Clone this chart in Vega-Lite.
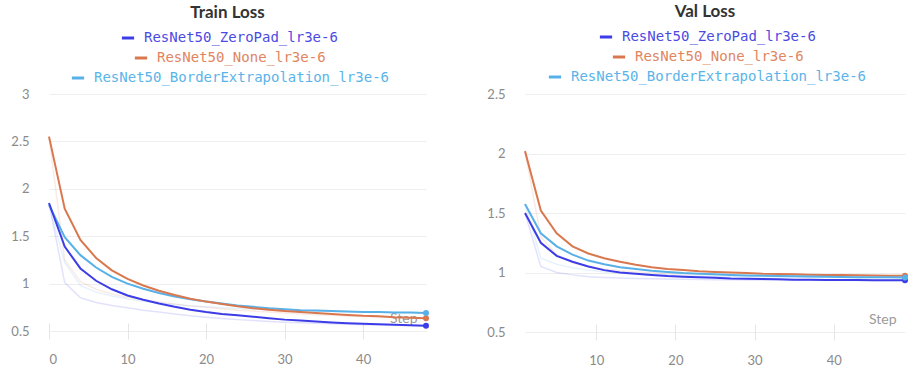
{
  "$schema": "https://vega.github.io/schema/vega-lite/v6.json",
  "padding": {"left": 10, "top": 3, "right": 5, "bottom": 2},
  "spacing": 56,
  "datasets": {
    "train": [
      {"series":"ResNet50_ZeroPad_lr3e-6","step":0,"smooth":1.85,"raw":1.85},
      {"series":"ResNet50_ZeroPad_lr3e-6","step":2,"smooth":1.39,"raw":1.01},
      {"series":"ResNet50_ZeroPad_lr3e-6","step":4,"smooth":1.16,"raw":0.85},
      {"series":"ResNet50_ZeroPad_lr3e-6","step":6,"smooth":1.03,"raw":0.80},
      {"series":"ResNet50_ZeroPad_lr3e-6","step":8,"smooth":0.94,"raw":0.77},
      {"series":"ResNet50_ZeroPad_lr3e-6","step":10,"smooth":0.875,"raw":0.745},
      {"series":"ResNet50_ZeroPad_lr3e-6","step":12,"smooth":0.83,"raw":0.72},
      {"series":"ResNet50_ZeroPad_lr3e-6","step":14,"smooth":0.79,"raw":0.70},
      {"series":"ResNet50_ZeroPad_lr3e-6","step":16,"smooth":0.755,"raw":0.68},
      {"series":"ResNet50_ZeroPad_lr3e-6","step":18,"smooth":0.725,"raw":0.66},
      {"series":"ResNet50_ZeroPad_lr3e-6","step":20,"smooth":0.70,"raw":0.645},
      {"series":"ResNet50_ZeroPad_lr3e-6","step":22,"smooth":0.68,"raw":0.632},
      {"series":"ResNet50_ZeroPad_lr3e-6","step":24,"smooth":0.665,"raw":0.62},
      {"series":"ResNet50_ZeroPad_lr3e-6","step":26,"smooth":0.65,"raw":0.61},
      {"series":"ResNet50_ZeroPad_lr3e-6","step":28,"smooth":0.635,"raw":0.60},
      {"series":"ResNet50_ZeroPad_lr3e-6","step":30,"smooth":0.62,"raw":0.593},
      {"series":"ResNet50_ZeroPad_lr3e-6","step":32,"smooth":0.61,"raw":0.587},
      {"series":"ResNet50_ZeroPad_lr3e-6","step":34,"smooth":0.60,"raw":0.581},
      {"series":"ResNet50_ZeroPad_lr3e-6","step":36,"smooth":0.59,"raw":0.576},
      {"series":"ResNet50_ZeroPad_lr3e-6","step":38,"smooth":0.583,"raw":0.571},
      {"series":"ResNet50_ZeroPad_lr3e-6","step":40,"smooth":0.576,"raw":0.567},
      {"series":"ResNet50_ZeroPad_lr3e-6","step":42,"smooth":0.57,"raw":0.563},
      {"series":"ResNet50_ZeroPad_lr3e-6","step":44,"smooth":0.565,"raw":0.56},
      {"series":"ResNet50_ZeroPad_lr3e-6","step":46,"smooth":0.56,"raw":0.557},
      {"series":"ResNet50_ZeroPad_lr3e-6","step":48,"smooth":0.556,"raw":0.554},
      {"series":"ResNet50_None_lr3e-6","step":0,"smooth":2.55,"raw":2.55},
      {"series":"ResNet50_None_lr3e-6","step":2,"smooth":1.79,"raw":1.25},
      {"series":"ResNet50_None_lr3e-6","step":4,"smooth":1.46,"raw":1.02},
      {"series":"ResNet50_None_lr3e-6","step":6,"smooth":1.27,"raw":0.94},
      {"series":"ResNet50_None_lr3e-6","step":8,"smooth":1.14,"raw":0.89},
      {"series":"ResNet50_None_lr3e-6","step":10,"smooth":1.05,"raw":0.855},
      {"series":"ResNet50_None_lr3e-6","step":12,"smooth":0.98,"raw":0.83},
      {"series":"ResNet50_None_lr3e-6","step":14,"smooth":0.925,"raw":0.805},
      {"series":"ResNet50_None_lr3e-6","step":16,"smooth":0.88,"raw":0.785},
      {"series":"ResNet50_None_lr3e-6","step":18,"smooth":0.84,"raw":0.765},
      {"series":"ResNet50_None_lr3e-6","step":20,"smooth":0.81,"raw":0.75},
      {"series":"ResNet50_None_lr3e-6","step":22,"smooth":0.785,"raw":0.735},
      {"series":"ResNet50_None_lr3e-6","step":24,"smooth":0.76,"raw":0.72},
      {"series":"ResNet50_None_lr3e-6","step":26,"smooth":0.74,"raw":0.71},
      {"series":"ResNet50_None_lr3e-6","step":28,"smooth":0.725,"raw":0.70},
      {"series":"ResNet50_None_lr3e-6","step":30,"smooth":0.71,"raw":0.69},
      {"series":"ResNet50_None_lr3e-6","step":32,"smooth":0.70,"raw":0.68},
      {"series":"ResNet50_None_lr3e-6","step":34,"smooth":0.69,"raw":0.672},
      {"series":"ResNet50_None_lr3e-6","step":36,"smooth":0.68,"raw":0.665},
      {"series":"ResNet50_None_lr3e-6","step":38,"smooth":0.67,"raw":0.658},
      {"series":"ResNet50_None_lr3e-6","step":40,"smooth":0.66,"raw":0.652},
      {"series":"ResNet50_None_lr3e-6","step":42,"smooth":0.655,"raw":0.647},
      {"series":"ResNet50_None_lr3e-6","step":44,"smooth":0.645,"raw":0.642},
      {"series":"ResNet50_None_lr3e-6","step":46,"smooth":0.64,"raw":0.637},
      {"series":"ResNet50_None_lr3e-6","step":48,"smooth":0.635,"raw":0.632},
      {"series":"ResNet50_BorderExtrapolation_lr3e-6","step":0,"smooth":1.83,"raw":1.83},
      {"series":"ResNet50_BorderExtrapolation_lr3e-6","step":2,"smooth":1.49,"raw":1.22},
      {"series":"ResNet50_BorderExtrapolation_lr3e-6","step":4,"smooth":1.30,"raw":0.98},
      {"series":"ResNet50_BorderExtrapolation_lr3e-6","step":6,"smooth":1.17,"raw":0.91},
      {"series":"ResNet50_BorderExtrapolation_lr3e-6","step":8,"smooth":1.07,"raw":0.87},
      {"series":"ResNet50_BorderExtrapolation_lr3e-6","step":10,"smooth":1.00,"raw":0.84},
      {"series":"ResNet50_BorderExtrapolation_lr3e-6","step":12,"smooth":0.945,"raw":0.815},
      {"series":"ResNet50_BorderExtrapolation_lr3e-6","step":14,"smooth":0.90,"raw":0.795},
      {"series":"ResNet50_BorderExtrapolation_lr3e-6","step":16,"smooth":0.865,"raw":0.78},
      {"series":"ResNet50_BorderExtrapolation_lr3e-6","step":18,"smooth":0.835,"raw":0.765},
      {"series":"ResNet50_BorderExtrapolation_lr3e-6","step":20,"smooth":0.81,"raw":0.755},
      {"series":"ResNet50_BorderExtrapolation_lr3e-6","step":22,"smooth":0.79,"raw":0.745},
      {"series":"ResNet50_BorderExtrapolation_lr3e-6","step":24,"smooth":0.77,"raw":0.737},
      {"series":"ResNet50_BorderExtrapolation_lr3e-6","step":26,"smooth":0.755,"raw":0.73},
      {"series":"ResNet50_BorderExtrapolation_lr3e-6","step":28,"smooth":0.74,"raw":0.724},
      {"series":"ResNet50_BorderExtrapolation_lr3e-6","step":30,"smooth":0.73,"raw":0.719},
      {"series":"ResNet50_BorderExtrapolation_lr3e-6","step":32,"smooth":0.72,"raw":0.714},
      {"series":"ResNet50_BorderExtrapolation_lr3e-6","step":34,"smooth":0.715,"raw":0.71},
      {"series":"ResNet50_BorderExtrapolation_lr3e-6","step":36,"smooth":0.71,"raw":0.706},
      {"series":"ResNet50_BorderExtrapolation_lr3e-6","step":38,"smooth":0.705,"raw":0.703},
      {"series":"ResNet50_BorderExtrapolation_lr3e-6","step":40,"smooth":0.70,"raw":0.70},
      {"series":"ResNet50_BorderExtrapolation_lr3e-6","step":42,"smooth":0.70,"raw":0.698},
      {"series":"ResNet50_BorderExtrapolation_lr3e-6","step":44,"smooth":0.695,"raw":0.696},
      {"series":"ResNet50_BorderExtrapolation_lr3e-6","step":46,"smooth":0.695,"raw":0.694},
      {"series":"ResNet50_BorderExtrapolation_lr3e-6","step":48,"smooth":0.69,"raw":0.692}
    ],
    "val": [
      {"series":"ResNet50_ZeroPad_lr3e-6","step":1,"smooth":1.50,"raw":1.50},
      {"series":"ResNet50_ZeroPad_lr3e-6","step":3,"smooth":1.25,"raw":1.05},
      {"series":"ResNet50_ZeroPad_lr3e-6","step":5,"smooth":1.14,"raw":1.00},
      {"series":"ResNet50_ZeroPad_lr3e-6","step":7,"smooth":1.09,"raw":0.98},
      {"series":"ResNet50_ZeroPad_lr3e-6","step":9,"smooth":1.05,"raw":0.965},
      {"series":"ResNet50_ZeroPad_lr3e-6","step":11,"smooth":1.02,"raw":0.958},
      {"series":"ResNet50_ZeroPad_lr3e-6","step":13,"smooth":1.00,"raw":0.953},
      {"series":"ResNet50_ZeroPad_lr3e-6","step":15,"smooth":0.99,"raw":0.95},
      {"series":"ResNet50_ZeroPad_lr3e-6","step":17,"smooth":0.98,"raw":0.947},
      {"series":"ResNet50_ZeroPad_lr3e-6","step":19,"smooth":0.97,"raw":0.945},
      {"series":"ResNet50_ZeroPad_lr3e-6","step":21,"smooth":0.965,"raw":0.943},
      {"series":"ResNet50_ZeroPad_lr3e-6","step":23,"smooth":0.96,"raw":0.941},
      {"series":"ResNet50_ZeroPad_lr3e-6","step":25,"smooth":0.955,"raw":0.94},
      {"series":"ResNet50_ZeroPad_lr3e-6","step":27,"smooth":0.95,"raw":0.939},
      {"series":"ResNet50_ZeroPad_lr3e-6","step":29,"smooth":0.948,"raw":0.938},
      {"series":"ResNet50_ZeroPad_lr3e-6","step":31,"smooth":0.945,"raw":0.937},
      {"series":"ResNet50_ZeroPad_lr3e-6","step":33,"smooth":0.943,"raw":0.936},
      {"series":"ResNet50_ZeroPad_lr3e-6","step":35,"smooth":0.94,"raw":0.935},
      {"series":"ResNet50_ZeroPad_lr3e-6","step":37,"smooth":0.94,"raw":0.935},
      {"series":"ResNet50_ZeroPad_lr3e-6","step":39,"smooth":0.938,"raw":0.934},
      {"series":"ResNet50_ZeroPad_lr3e-6","step":41,"smooth":0.937,"raw":0.934},
      {"series":"ResNet50_ZeroPad_lr3e-6","step":43,"smooth":0.936,"raw":0.933},
      {"series":"ResNet50_ZeroPad_lr3e-6","step":45,"smooth":0.935,"raw":0.933},
      {"series":"ResNet50_ZeroPad_lr3e-6","step":47,"smooth":0.935,"raw":0.933},
      {"series":"ResNet50_ZeroPad_lr3e-6","step":49,"smooth":0.934,"raw":0.932},
      {"series":"ResNet50_None_lr3e-6","step":1,"smooth":2.02,"raw":2.02},
      {"series":"ResNet50_None_lr3e-6","step":3,"smooth":1.52,"raw":1.30},
      {"series":"ResNet50_None_lr3e-6","step":5,"smooth":1.33,"raw":1.15},
      {"series":"ResNet50_None_lr3e-6","step":7,"smooth":1.22,"raw":1.08},
      {"series":"ResNet50_None_lr3e-6","step":9,"smooth":1.16,"raw":1.05},
      {"series":"ResNet50_None_lr3e-6","step":11,"smooth":1.12,"raw":1.03},
      {"series":"ResNet50_None_lr3e-6","step":13,"smooth":1.09,"raw":1.015},
      {"series":"ResNet50_None_lr3e-6","step":15,"smooth":1.065,"raw":1.005},
      {"series":"ResNet50_None_lr3e-6","step":17,"smooth":1.045,"raw":0.998},
      {"series":"ResNet50_None_lr3e-6","step":19,"smooth":1.03,"raw":0.992},
      {"series":"ResNet50_None_lr3e-6","step":21,"smooth":1.02,"raw":0.988},
      {"series":"ResNet50_None_lr3e-6","step":23,"smooth":1.01,"raw":0.985},
      {"series":"ResNet50_None_lr3e-6","step":25,"smooth":1.005,"raw":0.982},
      {"series":"ResNet50_None_lr3e-6","step":27,"smooth":1.0,"raw":0.98},
      {"series":"ResNet50_None_lr3e-6","step":29,"smooth":0.995,"raw":0.978},
      {"series":"ResNet50_None_lr3e-6","step":31,"smooth":0.99,"raw":0.977},
      {"series":"ResNet50_None_lr3e-6","step":33,"smooth":0.988,"raw":0.976},
      {"series":"ResNet50_None_lr3e-6","step":35,"smooth":0.985,"raw":0.975},
      {"series":"ResNet50_None_lr3e-6","step":37,"smooth":0.982,"raw":0.974},
      {"series":"ResNet50_None_lr3e-6","step":39,"smooth":0.98,"raw":0.973},
      {"series":"ResNet50_None_lr3e-6","step":41,"smooth":0.978,"raw":0.973},
      {"series":"ResNet50_None_lr3e-6","step":43,"smooth":0.976,"raw":0.972},
      {"series":"ResNet50_None_lr3e-6","step":45,"smooth":0.975,"raw":0.972},
      {"series":"ResNet50_None_lr3e-6","step":47,"smooth":0.973,"raw":0.971},
      {"series":"ResNet50_None_lr3e-6","step":49,"smooth":0.972,"raw":0.971},
      {"series":"ResNet50_BorderExtrapolation_lr3e-6","step":1,"smooth":1.575,"raw":1.575},
      {"series":"ResNet50_BorderExtrapolation_lr3e-6","step":3,"smooth":1.33,"raw":1.12},
      {"series":"ResNet50_BorderExtrapolation_lr3e-6","step":5,"smooth":1.22,"raw":1.07},
      {"series":"ResNet50_BorderExtrapolation_lr3e-6","step":7,"smooth":1.15,"raw":1.04},
      {"series":"ResNet50_BorderExtrapolation_lr3e-6","step":9,"smooth":1.10,"raw":1.02},
      {"series":"ResNet50_BorderExtrapolation_lr3e-6","step":11,"smooth":1.07,"raw":1.005},
      {"series":"ResNet50_BorderExtrapolation_lr3e-6","step":13,"smooth":1.045,"raw":0.995},
      {"series":"ResNet50_BorderExtrapolation_lr3e-6","step":15,"smooth":1.03,"raw":0.988},
      {"series":"ResNet50_BorderExtrapolation_lr3e-6","step":17,"smooth":1.015,"raw":0.982},
      {"series":"ResNet50_BorderExtrapolation_lr3e-6","step":19,"smooth":1.005,"raw":0.978},
      {"series":"ResNet50_BorderExtrapolation_lr3e-6","step":21,"smooth":0.995,"raw":0.974},
      {"series":"ResNet50_BorderExtrapolation_lr3e-6","step":23,"smooth":0.99,"raw":0.971},
      {"series":"ResNet50_BorderExtrapolation_lr3e-6","step":25,"smooth":0.985,"raw":0.969},
      {"series":"ResNet50_BorderExtrapolation_lr3e-6","step":27,"smooth":0.98,"raw":0.967},
      {"series":"ResNet50_BorderExtrapolation_lr3e-6","step":29,"smooth":0.975,"raw":0.965},
      {"series":"ResNet50_BorderExtrapolation_lr3e-6","step":31,"smooth":0.972,"raw":0.964},
      {"series":"ResNet50_BorderExtrapolation_lr3e-6","step":33,"smooth":0.97,"raw":0.963},
      {"series":"ResNet50_BorderExtrapolation_lr3e-6","step":35,"smooth":0.968,"raw":0.962},
      {"series":"ResNet50_BorderExtrapolation_lr3e-6","step":37,"smooth":0.966,"raw":0.961},
      {"series":"ResNet50_BorderExtrapolation_lr3e-6","step":39,"smooth":0.964,"raw":0.96},
      {"series":"ResNet50_BorderExtrapolation_lr3e-6","step":41,"smooth":0.962,"raw":0.96},
      {"series":"ResNet50_BorderExtrapolation_lr3e-6","step":43,"smooth":0.961,"raw":0.959},
      {"series":"ResNet50_BorderExtrapolation_lr3e-6","step":45,"smooth":0.96,"raw":0.959},
      {"series":"ResNet50_BorderExtrapolation_lr3e-6","step":47,"smooth":0.96,"raw":0.958},
      {"series":"ResNet50_BorderExtrapolation_lr3e-6","step":49,"smooth":0.958,"raw":0.958}
    ]
  },
  "hconcat": [
    {
      "title": {"text": "Train Loss", "dx": -10},
      "width": 377,
      "height": 237,
      "data": {"name": "train"},
      "encoding": {
        "x": {"field": "step", "type": "quantitative", "scale": {"domain": [0, 48], "nice": false, "zero": false},
              "axis": {"values": [0, 10, 20, 30, 40], "title": "Step", "titleX": 368}},
        "y": {"field": "smooth", "type": "quantitative", "scale": {"domain": [0.5, 3], "nice": false, "zero": false},
              "axis": {"values": [0.5, 1, 1.5, 2, 2.5, 3], "format": "~g", "title": null}}
      },
      "layer": [
        {
          "mark": {"type": "line", "strokeWidth": 1.5, "opacity": 0.15},
          "encoding": {
            "y": {"field": "raw", "type": "quantitative", "scale": {"domain": [0.5, 3], "nice": false, "zero": false}},
            "color": {"field": "series", "type": "nominal", "legend": null,
                      "scale": {"domain": ["ResNet50_ZeroPad_lr3e-6", "ResNet50_None_lr3e-6", "ResNet50_BorderExtrapolation_lr3e-6"], "range": ["#3d3de8", "#d9784f", "#57b0e8"]}}
          }
        },
        {
          "transform": [{"filter": {"field": "series", "equal": "ResNet50_BorderExtrapolation_lr3e-6"}}],
          "mark": {"type": "line", "strokeWidth": 2},
          "encoding": {
            "color": {"field": "series", "type": "nominal",
                      "scale": {"domain": ["ResNet50_BorderExtrapolation_lr3e-6"], "range": ["#57b0e8"]},
                      "legend": {"orient": "none", "legendX": 21, "legendY": -24, "labelColor": "#5ab4ea", "title": null}}
          }
        },
        {
          "transform": [{"filter": {"field": "series", "equal": "ResNet50_None_lr3e-6"}}],
          "mark": {"type": "line", "strokeWidth": 2},
          "encoding": {
            "color": {"field": "series", "type": "nominal",
                      "scale": {"domain": ["ResNet50_None_lr3e-6"], "range": ["#d9784f"]},
                      "legend": {"orient": "none", "legendX": 84, "legendY": -44, "labelColor": "#e08560", "title": null}}
          }
        },
        {
          "transform": [{"filter": {"field": "series", "equal": "ResNet50_ZeroPad_lr3e-6"}}],
          "mark": {"type": "line", "strokeWidth": 2},
          "encoding": {
            "color": {"field": "series", "type": "nominal",
                      "scale": {"domain": ["ResNet50_ZeroPad_lr3e-6"], "range": ["#3d3de8"]},
                      "legend": {"orient": "none", "legendX": 71, "legendY": -64, "labelColor": "#4b4be3", "title": null}}
          }
        },
        {
          "transform": [{"filter": {"field": "step", "equal": 48}}],
          "mark": {"type": "circle", "size": 36, "opacity": 1},
          "encoding": {
            "color": {"field": "series", "type": "nominal", "legend": null,
                      "scale": {"domain": ["ResNet50_ZeroPad_lr3e-6", "ResNet50_None_lr3e-6", "ResNet50_BorderExtrapolation_lr3e-6"], "range": ["#3d3de8", "#d9784f", "#57b0e8"]}}
          }
        }
      ],
      "resolve": {"scale": {"color": "independent"}}
    },
    {
      "title": {"text": "Val Loss", "dx": -10},
      "width": 380,
      "height": 238,
      "data": {"name": "val"},
      "encoding": {
        "x": {"field": "step", "type": "quantitative", "scale": {"domain": [1, 49], "nice": false, "zero": false},
              "axis": {"values": [10, 20, 30, 40], "title": "Step", "titleX": 371}},
        "y": {"field": "smooth", "type": "quantitative", "scale": {"domain": [0.5, 2.5], "nice": false, "zero": false},
              "axis": {"values": [0.5, 1, 1.5, 2, 2.5], "format": "~g", "title": null}}
      },
      "layer": [
        {
          "mark": {"type": "line", "strokeWidth": 1.5, "opacity": 0.15},
          "encoding": {
            "y": {"field": "raw", "type": "quantitative", "scale": {"domain": [0.5, 2.5], "nice": false, "zero": false}},
            "color": {"field": "series", "type": "nominal", "legend": null,
                      "scale": {"domain": ["ResNet50_ZeroPad_lr3e-6", "ResNet50_None_lr3e-6", "ResNet50_BorderExtrapolation_lr3e-6"], "range": ["#3d3de8", "#d9784f", "#57b0e8"]}}
          }
        },
        {
          "transform": [{"filter": {"field": "series", "equal": "ResNet50_None_lr3e-6"}}],
          "mark": {"type": "line", "strokeWidth": 2},
          "encoding": {
            "color": {"field": "series", "type": "nominal",
                      "scale": {"domain": ["ResNet50_None_lr3e-6"], "range": ["#d9784f"]},
                      "legend": {"orient": "none", "legendX": 86, "legendY": -45, "labelColor": "#e08560", "title": null}}
          }
        },
        {
          "transform": [{"filter": {"field": "series", "equal": "ResNet50_BorderExtrapolation_lr3e-6"}}],
          "mark": {"type": "line", "strokeWidth": 2},
          "encoding": {
            "color": {"field": "series", "type": "nominal",
                      "scale": {"domain": ["ResNet50_BorderExtrapolation_lr3e-6"], "range": ["#57b0e8"]},
                      "legend": {"orient": "none", "legendX": 22, "legendY": -25, "labelColor": "#5ab4ea", "title": null}}
          }
        },
        {
          "transform": [{"filter": {"field": "series", "equal": "ResNet50_ZeroPad_lr3e-6"}}],
          "mark": {"type": "line", "strokeWidth": 2},
          "encoding": {
            "color": {"field": "series", "type": "nominal",
                      "scale": {"domain": ["ResNet50_ZeroPad_lr3e-6"], "range": ["#3d3de8"]},
                      "legend": {"orient": "none", "legendX": 73, "legendY": -65, "labelColor": "#4b4be3", "title": null}}
          }
        },
        {
          "transform": [{"filter": {"field": "step", "equal": 49}}],
          "mark": {"type": "circle", "size": 36, "opacity": 1},
          "encoding": {
            "color": {"field": "series", "type": "nominal", "legend": null,
                      "scale": {"domain": ["ResNet50_ZeroPad_lr3e-6", "ResNet50_None_lr3e-6", "ResNet50_BorderExtrapolation_lr3e-6"], "range": ["#3d3de8", "#d9784f", "#57b0e8"]}}
          }
        }
      ],
      "resolve": {"scale": {"color": "independent"}}
    }
  ],
  "config": {
    "font": "Lato",
    "view": {"stroke": null},
    "title": {"font": "Lato", "fontSize": 17, "fontWeight": "bold", "color": "#333333", "anchor": "middle", "offset": 8},
    "axisX": {"grid": false, "domain": false, "ticks": true, "tickSize": 16, "offset": -8, "tickColor": "#e6e6e6",
              "labelColor": "#8a8a8a", "labelFontSize": 13, "labelFont": "Lato", "labelPadding": 14,
              "titleColor": "#9a9a9a", "titleFontSize": 14, "titleFontWeight": "normal", "titleFont": "Lato",
              "titleAnchor": "end", "titleAlign": "right", "titleBaseline": "alphabetic", "titleY": -1},
    "axisY": {"grid": true, "gridColor": "#eeeeee", "domain": false, "ticks": false,
              "labelColor": "#8a8a8a", "labelFontSize": 13, "labelFont": "Lato", "labelPadding": 20},
    "legend": {"symbolType": "stroke", "symbolStrokeWidth": 3, "symbolSize": 150, "labelFont": "DejaVu Sans Mono",
               "labelFontSize": 14, "labelOffset": 8, "padding": 0, "labelLimit": 400}
  }
}
